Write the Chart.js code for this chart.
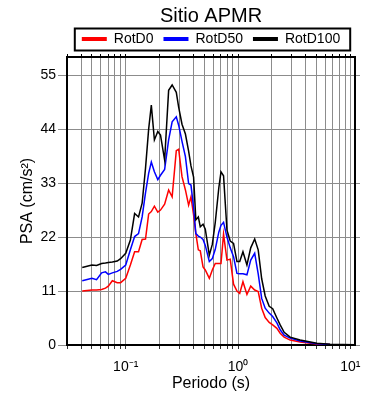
<!DOCTYPE html>
<html lang="es">
<head>
  <meta charset="UTF-8">
  <title>Sitio APMR</title>
  <script src="https://cdn.jsdelivr.net/npm/chart.js"></script>
  <style>
    body { margin: 0; background: #fff; }
    #wrap { width: 390px; height: 400px; }
  </style>
</head>
<body>
  <div id="wrap"><canvas id="grafico" width="390" height="400"></canvas></div>
  <script>
    // Periodos (s) y aceleraciones espectrales (cm/s2)
    const periodos = [0.041,0.050,0.055,0.061,0.066,0.070,0.076,0.084,0.090,0.100,
      0.110,0.120,0.130,0.140,0.150,0.160,0.169,0.180,0.193,0.204,
      0.222,0.241,0.259,0.282,0.296,0.317,0.340,0.363,0.381,0.402,
      0.421,0.443,0.461,0.488,0.511,0.555,0.590,0.627,0.674,0.705,
      0.743,0.797,0.852,0.912,0.978,1.035,1.106,1.200,1.297,1.407,
      1.512,1.624,1.745,1.894,2.035,2.218,2.372,2.575,2.911,3.573,
      5.03,6.60,11.0];
    const rotD0 = [11.0,11.2,11.2,11.3,11.6,12.0,13.1,12.7,12.7,13.6,
      16.3,19.0,19.0,21.5,21.6,26.7,27.2,28.3,27.1,27.5,
      28.7,31.6,30.2,39.6,39.9,34.3,31.6,28.5,30.2,26.5,
      22.7,19.4,19.2,15.9,15.3,13.6,15.3,16.6,16.6,16.6,
      22.6,17.3,17.5,12.4,11.0,10.5,12.9,10.3,12.0,11.2,
      10.9,7.5,5.6,4.6,4.1,3.4,2.4,1.6,1.0,0.6,
      0.2,0.08,0.02];
    const rotD50 = [13.1,13.6,13.3,14.7,14.9,14.4,14.7,15.0,15.4,16.3,
      19.4,22.1,22.7,26.1,31.0,35.0,37.3,35.3,33.7,34.6,
      35.8,41.8,45.5,46.5,44.8,41.5,38.4,32.9,32.6,28.0,
      22.7,22.2,22.0,21.5,20.3,17.0,17.6,19.5,23.0,24.4,
      25.0,22.0,19.8,18.0,14.6,14.5,14.5,14.3,17.3,18.7,
      14.5,9.5,7.5,6.5,5.8,4.5,3.1,2.0,1.4,0.8,
      0.25,0.1,0.03];
    const rotD100 = [15.8,16.3,16.2,16.6,16.7,16.8,16.9,17.1,17.6,18.7,
      21.4,26.8,26.1,28.9,36.0,44.0,48.9,41.8,43.5,42.8,
      37.7,51.9,53.0,51.5,48.5,45.0,43.0,39.5,36.5,34.2,
      25.5,26.1,24.1,24.6,23.6,18.3,20.5,25.0,32.0,35.3,
      34.5,23.4,21.2,20.7,17.0,17.0,19.0,16.3,19.8,21.6,
      19.4,13.5,10.0,7.9,7.4,5.5,4.1,2.6,1.6,1.0,
      0.35,0.15,0.05];

    // Ejes
    const yTicks = [0, 11, 22, 33, 44, 55];
    const xGrid = [0.03,0.04,0.05,0.06,0.07,0.08,0.09,
      0.1,0.2,0.3,0.4,0.5,0.6,0.7,0.8,0.9,
      1,2,3,4,5,6,7,8,9,10];
    const xLabels = { 0.1: '10⁻¹', 1: '10⁰', 10: '10¹' };

    const X_MIN = 0.03, X_MAX = 11, Y_MAX = 58.7;
    const FONT = "'Liberation Sans', Arial, sans-serif";
    const GRIS = '#8c8c8c';

    Chart.defaults.font.family = FONT;
    Chart.defaults.color = '#000';

    const fijarX = s => { s.ticks = xGrid.map(v => ({ value: v })); };
    const fijarY = s => { s.ticks = yTicks.map(v => ({ value: v })); };

    // Marco alrededor de la leyenda
    const marcoLeyenda = {
      id: 'marcoLeyenda',
      afterDraw(chart) {
        const lg = chart.legend;
        const hb = lg && lg.legendHitBoxes;
        if (!hb || !hb.length) return;
        const last = hb[hb.length - 1];
        const cy = hb[0].top + hb[0].height / 2;
        const x0 = hb[0].left - 7;
        const x1 = last.left + last.width + 10;
        const c = chart.ctx;
        c.save();
        c.strokeStyle = '#000';
        c.lineWidth = 2;
        c.strokeRect(x0, cy - 10.5, x1 - x0, 22);
        c.restore();
      }
    };

    const serie = (label, data, color, order) => ({
      label,
      data: data.map((v, i) => ({ x: periodos[i], y: v })),
      borderColor: color,
      backgroundColor: color,
      borderWidth: 1.5,
      pointRadius: 0,
      tension: 0,
      order
    });

    new Chart(document.getElementById('grafico'), {
      type: 'line',
      data: {
        datasets: [
          serie('RotD0', rotD0, '#ff0000', 3),
          serie('RotD50', rotD50, '#0000ff', 2),
          serie('RotD100', rotD100, '#000000', 1)
        ]
      },
      options: {
        responsive: false,
        animation: false,
        layout: { padding: 0 },
        plugins: {
          tooltip: { enabled: false },
          title: {
            display: true,
            text: 'Sitio APMR',
            fullSize: false,
            font: { size: 20, weight: 'normal' },
            padding: { top: 4, bottom: -6 }
          },
          legend: {
            display: true,
            fullSize: false,
            labels: {
              usePointStyle: true,
              pointStyle: 'line',
              pointStyleWidth: 25,
              boxHeight: 14,
              padding: 10,
              font: { size: 14 },
              sort: (a, b) => a.datasetIndex - b.datasetIndex,
              generateLabels: chart =>
                Chart.defaults.plugins.legend.labels.generateLabels(chart)
                  .map(it => Object.assign(it, { lineWidth: 4 }))
            }
          }
        },
        scales: {
          x: {
            type: 'logarithmic',
            position: 'bottom',
            min: X_MIN, max: X_MAX,
            afterBuildTicks: fijarX,
            afterFit: s => { s.height = 55; },
            ticks: {
              autoSkip: false, maxRotation: 0, padding: 10,
              font: { size: 14 },
              callback: v => xLabels[v] || ''
            },
            grid: { color: GRIS, tickLength: 4, tickColor: '#333' },
            border: { color: '#000', width: 2 },
            title: { display: true, text: 'Periodo (s)', font: { size: 16 }, padding: { bottom: 7 } }
          },
          x2: {
            type: 'logarithmic',
            position: 'top',
            min: X_MIN, max: X_MAX,
            afterBuildTicks: fijarX,
            afterFit: s => { s.height = 1; },
            ticks: { display: false },
            grid: { drawOnChartArea: false, tickLength: 3, tickColor: '#000' },
            border: { color: '#000', width: 2 }
          },
          y: {
            position: 'left',
            min: 0, max: Y_MAX,
            afterBuildTicks: fijarY,
            afterFit: s => { s.width = 67; },
            ticks: { padding: 2, font: { size: 14 } },
            grid: { color: GRIS, tickLength: 9 },
            border: { color: '#000', width: 2 },
            title: { display: true, text: 'PSA (cm/s²)', font: { size: 16 }, padding: { top: 18 } }
          },
          y2: {
            position: 'right',
            min: 0, max: Y_MAX,
            afterBuildTicks: fijarY,
            afterFit: s => { s.width = 35; },
            ticks: { display: false },
            grid: { drawOnChartArea: false, tickLength: 5, tickColor: GRIS },
            border: { color: '#000', width: 2 }
          }
        }
      },
      plugins: [marcoLeyenda]
    });
  </script>
</body>
</html>
